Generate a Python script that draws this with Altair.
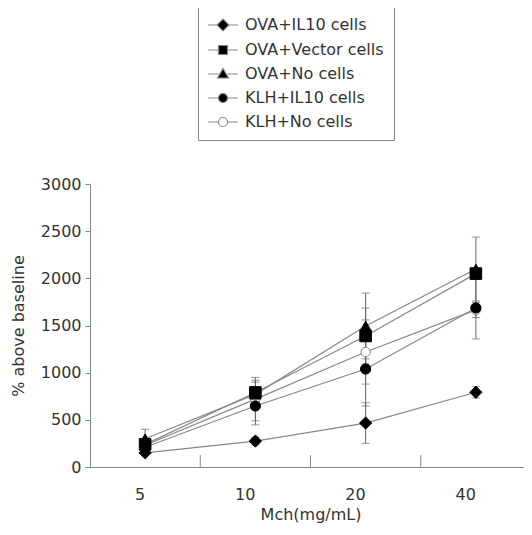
import altair as alt
import pandas as pd

conc = ["5", "10", "20", "40"]
series = ["OVA+IL10 cells", "OVA+Vector cells", "OVA+No cells", "KLH+IL10 cells", "KLH+No cells"]
values = {
    "OVA+IL10 cells":   [150, 275, 466, 792],
    "OVA+Vector cells": [240, 790, 1389, 2050],
    "OVA+No cells":     [300, 770, 1495, 2099],
    "KLH+IL10 cells":   [210, 647, 1039, 1686],
    "KLH+No cells":     [230, 720, 1219, 1665],
}
errors = {
    "OVA+IL10 cells":   [30, 40, 215, 60],
    "OVA+Vector cells": [60, 130, 296, 50],
    "OVA+No cells":     [100, 130, 349, 339],
    "KLH+IL10 cells":   [50, 200, 392, 329],
    "KLH+No cells":     [50, 230, 340, 80],
}
draw_order = [4, 1, 5, 3, 0]  # open circles drawn first (underneath)
y_ticks = [0, 500, 1000, 1500, 2000, 2500, 3000]
boundary_cats = ["10", "20", "40"]
end_cat = ["40"]

rows = []
for s, o in zip(series, draw_order):
    for c, v, e in zip(conc, values[s], errors[s]):
        rows.append({"series": s, "conc": c, "value": v, "lo": v - e, "hi": v + e, "ord": o})
df = pd.DataFrame(rows)

FONT = "DejaVu Sans"
GREY = "#888888"
TXT = "#333333"

shapes_plot = ["diamond", "square", "triangle-up", "circle", "circle"]
sizes_plot = [150, 90, 130, 110, 110]
fills = ["black", "black", "black", "black", "white"]
strokes = ["black", "black", "black", "black", GREY]

legend_paths = [
    "M-3,0H-1.2M1.2,0H3M0,-1.2L1.2,0L0,1.2L-1.2,0Z",
    "M-3,0H-0.9M0.9,0H3M-0.9,-0.9H0.9V0.9H-0.9Z",
    "M-3,0H-0.9M0.9,0H3M0,-1.1L1.1,0.8L-1.1,0.8Z",
    "M-3,0H-0.9M0.9,0H3M0.9,0A0.9,0.9,0,1,1,-0.9,0A0.9,0.9,0,1,1,0.9,0Z",
    "M-3,0H-0.9M0.9,0H3M0.9,0A0.9,0.9,0,1,1,-0.9,0A0.9,0.9,0,1,1,0.9,0Z",
]
legend_strokes = [GREY] * 5

xscale = alt.Scale(domain=conc, paddingInner=0, paddingOuter=0)
x_enc = alt.X("conc:N", scale=xscale, sort=conc,
              axis=alt.Axis(title="Mch(mg/mL)", labelAngle=0, ticks=False,
                            labelPadding=27, titlePadding=4))
y_enc = alt.Y("value:Q", scale=alt.Scale(domain=[0, 3000], nice=False),
              axis=alt.Axis(title="% above baseline", values=y_ticks, tickSize=5, format="d",
                            labelPadding=4, titlePadding=14, grid=False))

base = alt.Chart(df)

lines = base.mark_line(color=GREY, strokeWidth=1.2).encode(
    x=x_enc, y=y_enc, detail="series:N")

err = base.mark_rule(color="#666666", strokeWidth=1).encode(
    x=alt.X("conc:N", scale=xscale, sort=conc), y="lo:Q", y2="hi:Q")
cap_lo = base.mark_tick(color="#666666", thickness=1, size=8, orient="horizontal").encode(
    x=alt.X("conc:N", scale=xscale, sort=conc), y="lo:Q")
cap_hi = base.mark_tick(color="#666666", thickness=1, size=8, orient="horizontal").encode(
    x=alt.X("conc:N", scale=xscale, sort=conc), y="hi:Q")

points = base.mark_point(filled=True, opacity=1, strokeWidth=1).encode(
    x=alt.X("conc:N", scale=xscale, sort=conc), y="value:Q",
    shape=alt.Shape("series:N", scale=alt.Scale(domain=series, range=shapes_plot), legend=None),
    fill=alt.Fill("series:N", scale=alt.Scale(domain=series, range=fills), legend=None),
    stroke=alt.Stroke("series:N", scale=alt.Scale(domain=series, range=strokes), legend=None),
    size=alt.Size("series:N", scale=alt.Scale(domain=series, range=sizes_plot), legend=None),
    order=alt.Order("ord:Q"),
)

leg = dict(title=None, orient="none", legendX=108, legendY=-177,
           strokeColor=GREY, padding=10, symbolSize=100, symbolOpacity=1,
           symbolStrokeWidth=1.2,
           symbolOffset=7, labelOffset=14, rowPadding=8,
           labelFont=FONT, labelFontSize=16, labelColor=TXT, labelLimit=300)

legend_layer = base.mark_point(filled=True, opacity=0, strokeWidth=1.2).encode(
    x=alt.X("conc:N", scale=xscale, sort=conc), y="value:Q",
    shape=alt.Shape("series:N", scale=alt.Scale(domain=series, range=legend_paths),
                    legend=alt.Legend(**leg)),
    fill=alt.Fill("series:N", scale=alt.Scale(domain=series, range=fills),
                  legend=alt.Legend(**leg)),
    stroke=alt.Stroke("series:N", scale=alt.Scale(domain=series, range=legend_strokes),
                      legend=alt.Legend(**leg)),
)

tick_df = pd.DataFrame({"c": boundary_cats})
end_df = pd.DataFrame({"c": end_cat})
inner_ticks = alt.Chart(tick_df).mark_rule(color=GREY, strokeWidth=1).encode(
    x=alt.X("c:N", scale=xscale, sort=conc, bandPosition=0),
    y=alt.datum(0), y2=alt.datum(125))
end_tick = alt.Chart(end_df).mark_rule(color=GREY, strokeWidth=1).encode(
    x=alt.X("c:N", scale=xscale, sort=conc, bandPosition=1),
    y=alt.datum(0), y2=alt.datum(125))

chart = alt.layer(
    inner_ticks, end_tick, lines, err, cap_lo, cap_hi, points, legend_layer
).resolve_scale(shape="independent", fill="independent", stroke="independent").properties(
    width=441, height=283,
    padding={"left": 2, "top": -2, "right": -8, "bottom": 5},
).configure_view(stroke=None).configure_axis(
    domainColor=GREY, tickColor=GREY, labelFont=FONT, labelFontSize=16, labelColor=TXT,
    titleFont=FONT, titleFontSize=16, titleColor=TXT, titleFontWeight="normal",
)

chart.save("out.html", embed_options={"renderer": "svg", "actions": False})
